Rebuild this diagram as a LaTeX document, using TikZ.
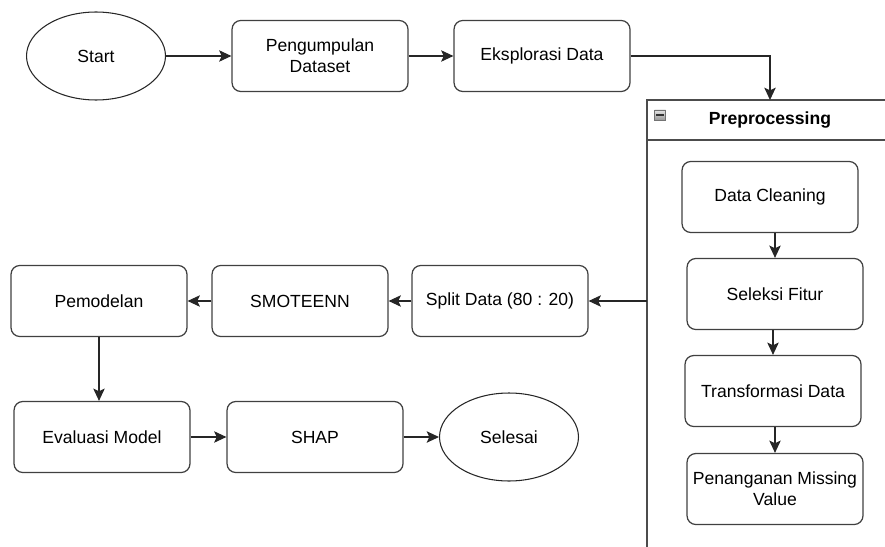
\documentclass[tikz,border=0pt]{standalone}
\usepackage{fontspec}
\setmainfont{Liberation Sans}
\usetikzlibrary{positioning}
\usetikzlibrary{arrows.meta,shapes.geometric}
\usetikzlibrary{calc}
\tikzstyle{process}=[rectangle,rounded corners=5pt,draw=black!75,line width=0.7pt,minimum width=3.52cm,minimum height=1.42cm,align=center,inner sep=1pt,font=\fontsize{10}{12}\selectfont]
\tikzstyle{terminal}=[ellipse,draw=black!85,line width=0.6pt,minimum width=2.78cm,minimum height=1.76cm,inner sep=0pt,font=\fontsize{10}{12}\selectfont]
\tikzstyle{edge} = [draw,line width=0.7pt,black!85,-{Stealth[length=7pt,width=6.5pt,inset=1.5pt]}]
\tikzstyle{container} = [draw=black!70,line width=0.9pt]

\begin{document}
\begin{tikzpicture}[x=0.02cm,y=-0.02cm]
    \useasboundingbox (0,0) rectangle (885,547);
    \clip (0,0) rectangle (885,547);

    % preprocessing container
    \draw[container] (647,100) rectangle (900,560);
    \draw[container] (647,140) -- (900,140);
    \node[font=\bfseries\fontsize{10}{12}\selectfont] (prephead) at (770,120) {Preprocessing};
    \node[draw=black!55,line width=0.5pt,top color=black!10,bottom color=black!40,minimum width=0.22cm,minimum height=0.2cm,inner sep=0pt] (fold) at (660,115) {};
    \draw[black!80,line width=0.9pt] ($(fold.west)+(2,0)$) -- ($(fold.east)+(-2,0)$);
    \coordinate (preptop) at (770,100);
    \coordinate (prepleft) at (647,301);

    \foreach \pos/\name/\label in {{(96,56)/start/Start}, {(509,437)/finish/Selesai}}
        \node[terminal] (\name) at \pos {\label};
    \foreach \pos/\name/\label in {{(320,56)/collect/{Pengumpulan\\Dataset}}, {(542,56)/explore/Eksplorasi Data},
        {(770,197)/clean/Data Cleaning}, {(775,294)/select/Seleksi Fitur},
        {(773,391)/transform/Transformasi Data}, {(775,489)/missing/{Penanganan Missing\\Value}},
        {(500,301)/split/Split Data (80 : 20)}, {(300,301)/smote/SMOTEENN}, {(99,301)/model/Pemodelan},
        {(102,437)/eval/Evaluasi Model}, {(315,437)/shap/SHAP}}
        \node[process] (\name) at \pos {\label};

    \foreach \source/ \dest in {start/collect, collect/explore, split/smote, smote/model,
        eval/shap, shap/finish}
        \path[edge] (\source) -- (\dest);
    \foreach \source/ \dest in {clean/select, select/transform, transform/missing}
        \path[edge] (\source.south -| \dest.north) -- (\dest.north);
    \path[edge] (model.south) -- (model.south |- eval.north);

    \path[edge] (explore.east) -| (preptop);
    \path[edge] (prepleft) -- (split.east);
\end{tikzpicture}
\end{document}
